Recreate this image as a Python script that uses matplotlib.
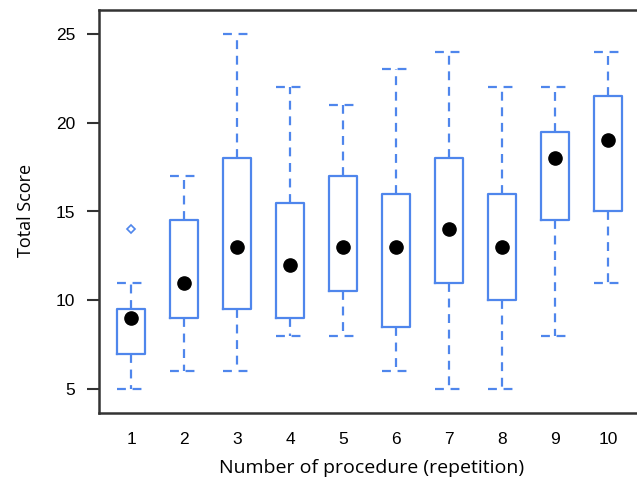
import matplotlib
matplotlib.use("Agg")
import matplotlib.pyplot as plt

procedures = [1, 2, 3, 4, 5, 6, 7, 8, 9, 10]
whisker_low = [5, 6, 6, 8, 8, 6, 5, 5, 8, 11]
q1 = [7, 9, 9.5, 9, 10.5, 8.5, 11, 10, 14.5, 15]
q3 = [9.5, 14.5, 18, 15.5, 17, 16, 18, 16, 19.5, 21.5]
whisker_high = [11, 17, 25, 22, 21, 23, 24, 22, 22, 24]
centers = [9, 11, 13, 12, 13, 13, 14, 13, 18, 19]
outliers = {1: [14]}
yticks = [5, 10, 15, 20, 25]

blue = "#4f86ec"
fig = plt.figure(figsize=(6.37, 4.86), dpi=100)
ax_w = 1 - 99/637 + 0.02
ax = fig.add_axes([99/637, 1 - 413/486, ax_w, (413 - 10)/486])

stats = []
for i, p in enumerate(procedures):
    stats.append(dict(med=centers[i], q1=q1[i], q3=q3[i],
                      whislo=whisker_low[i], whishi=whisker_high[i],
                      fliers=outliers.get(p, []), label=str(p)))

ax.bxp(stats, positions=procedures, widths=0.53, showfliers=True,
       boxprops=dict(color=blue, linewidth=1.6),
       whiskerprops=dict(color=blue, linewidth=1.6, linestyle=(0, (4, 3))),
       capprops=dict(color=blue, linewidth=1.6, linestyle=(0, (4, 3))),
       medianprops=dict(linewidth=0),
       flierprops=dict(marker="D", markersize=4.5, markerfacecolor="none",
                       markeredgecolor=blue, markeredgewidth=1.2),
       capwidths=0.53)
ax.plot(procedures, centers, "o", color="black", markersize=9.5, zorder=5)

ax_px = ax_w * 637
x0 = 1 - 32/53
ax.set_xlim(x0, x0 + ax_px/53)
ax.set_ylim(3.65, 26.35)
ax.set_yticks(yticks)
ax.set_xticks(procedures)
ax.set_xticklabels([str(p) for p in procedures])

for s in ["top", "left", "bottom"]:
    ax.spines[s].set_linewidth(1.8)
    ax.spines[s].set_color("#333333")
ax.spines["right"].set_visible(False)
ax.tick_params(axis="y", length=9, width=1.5, color="#333333", pad=8,
               labelsize=12.5)
ax.tick_params(axis="x", length=0, pad=14, labelsize=12.5)
for lab in ax.get_xticklabels() + ax.get_yticklabels():
    lab.set_family("Liberation Sans")

ax.set_ylabel("Total Score", fontsize=13, family="Open Sans")
ax.set_xlabel("Number of procedure (repetition)", fontsize=14,
              family="Open Sans")
ax.xaxis.set_label_coords((372 - 99) / ax_px, -0.113)
ax.yaxis.set_label_coords(-(99 - 35) / ax_px, (413 - 210) / 403)

fig.savefig("out.png", dpi=100)
